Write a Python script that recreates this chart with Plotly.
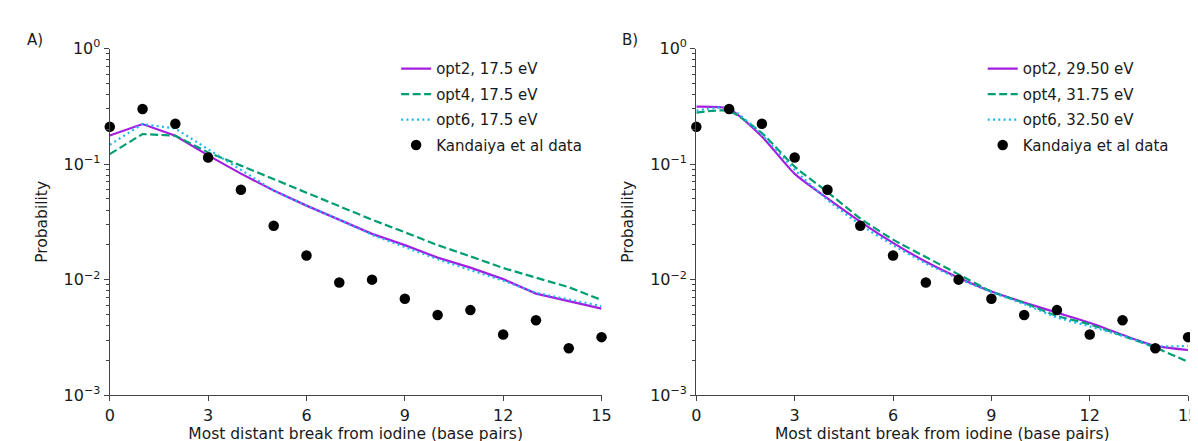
import plotly.graph_objects as go

x = list(range(16))

# Kandaiya et al experimental data (same in both panels)
kandaiya = [0.21, 0.30, 0.223, 0.114, 0.060, 0.0293, 0.0162, 0.00945,
            0.0100, 0.00684, 0.00495, 0.00545, 0.00335, 0.00445, 0.00255, 0.00318]

# Panel A (17.5 eV)
a_opt2 = [0.177, 0.222, 0.176, 0.119, 0.0827, 0.059, 0.0437, 0.033,
          0.0249, 0.0199, 0.0155, 0.0127, 0.0101, 0.00757, 0.00655, 0.00562]
a_opt4 = [0.122, 0.182, 0.176, 0.126, 0.097, 0.0738, 0.0562, 0.0431,
          0.033, 0.0257, 0.0199, 0.0159, 0.0126, 0.0104, 0.0086, 0.00667]
a_opt6 = [0.147, 0.222, 0.203, 0.135, 0.089, 0.059, 0.0437, 0.033,
          0.0244, 0.0192, 0.015, 0.0121, 0.0098, 0.0077, 0.0067, 0.0059]

# Panel B (fitted energies)
b_opt2 = [0.314, 0.30, 0.173, 0.0822, 0.0505, 0.0318, 0.0208, 0.0143,
          0.0104, 0.0079, 0.00634, 0.00518, 0.00423, 0.00333, 0.00267, 0.00246]
b_opt4 = [0.279, 0.288, 0.185, 0.095, 0.0573, 0.0339, 0.0222, 0.0157,
          0.0111, 0.0079, 0.00627, 0.00486, 0.0041, 0.00327, 0.00258, 0.00194]
b_opt6 = [0.29, 0.306, 0.179, 0.089, 0.049, 0.0299, 0.0199, 0.0138,
          0.0102, 0.0078, 0.00614, 0.00471, 0.00394, 0.00327, 0.00267, 0.00267]

a_names = ["opt2, 17.5 eV", "opt4, 17.5 eV", "opt6, 17.5 eV", "Kandaiya et al data"]
b_names = ["opt2, 29.50 eV", "opt4, 31.75 eV", "opt6, 32.50 eV", "Kandaiya et al data"]

x_ticks = [0, 3, 6, 9, 12, 15]
y_ticks = [0.001, 0.01, 0.1, 1]
y_ticktext = ["10<sup>\u22123</sup>", "10<sup>\u22122</sup>", "10<sup>\u22121</sup>", "10<sup>0</sup>"]
minor_vals = [m * 10.0 ** e for e in (-3, -2, -1) for m in range(2, 10)]

PURPLE = "#a41ee0"
GREEN = "#009e73"
BLUE = "#1ab8f0"
FONT = "DejaVu Sans"
TXT = "#1a1a1a"
W, H = 1198, 441

fig = go.Figure()

def add_panel(xa, ya, legend, names, s2, s4, s6, shape):
    styles = [(s2, PURPLE, "solid"), (s4, GREEN, "8px,3.5px"), (s6, BLUE, "2px,3.3px")]
    for i, (vals, col, dash) in enumerate(styles):
        fig.add_trace(go.Scatter(
            x=x, y=vals, mode="lines", name=names[i],
            line=dict(color=col, width=2.2, dash=dash, shape=shape, smoothing=0.6),
            xaxis=xa, yaxis=ya, legend=legend, legendgroup=legend + str(i)))
    fig.add_trace(go.Scatter(
        x=x, y=kandaiya, mode="markers", name=names[3],
        marker=dict(color="black", size=10.5), cliponaxis=False,
        xaxis=xa, yaxis=ya, legend=legend, legendgroup=legend + "3"))

add_panel("x", "y", "legend", a_names, a_opt2, a_opt4, a_opt6, "linear")
add_panel("x2", "y2", "legend2", b_names, b_opt2, b_opt4, b_opt6, "spline")

axis_common = dict(showline=True, linecolor="#444", linewidth=1.3, ticks="outside",
                   ticklen=5, tickcolor="#444", showgrid=False, zeroline=False,
                   tickfont=dict(size=16, color=TXT, family=FONT))
xcommon = dict(axis_common, range=[0, 15], tickvals=x_ticks,
               title=dict(text="Most distant break from iodine (base pairs)",
                          font=dict(size=15.5, color=TXT, family=FONT), standoff=0))
ycommon = dict(axis_common, type="log", range=[-3, 0], tickvals=y_ticks, ticktext=y_ticktext,
               minor=dict(tickvals=minor_vals, ticks="outside", ticklen=3, tickcolor="#444"),
               title=dict(text="Probability", font=dict(size=15.5, color=TXT, family=FONT), standoff=12))

legend_common = dict(xanchor="left", yanchor="top", font=dict(size=15, family=FONT, color=TXT),
                     tracegroupgap=3, bgcolor="rgba(0,0,0,0)")

ydom = [1 - 395 / H, 1 - 31 / H]

fig.update_layout(
    width=W, height=H,
    margin=dict(l=0, r=0, t=0, b=0),
    paper_bgcolor="white", plot_bgcolor="white",
    font=dict(family=FONT, color=TXT),
    xaxis=dict(xcommon, domain=[98 / W, 596 / W], anchor="y"),
    yaxis=dict(ycommon, domain=ydom, anchor="x"),
    xaxis2=dict(xcommon, domain=[692 / W, 1190 / W], anchor="y2"),
    yaxis2=dict(ycommon, domain=ydom, anchor="x2"),
    legend=dict(legend_common, x=388 / W, y=1 - 35 / H),
    legend2=dict(legend_common, x=982 / W, y=1 - 35 / H),
    showlegend=True,
    annotations=[
        dict(text="A)", x=12 / W, y=1 - 22 / H, xref="paper", yref="paper",
             showarrow=False, xanchor="left", yanchor="middle",
             font=dict(size=15, family=FONT, color=TXT)),
        dict(text="B)", x=615 / W, y=1 - 22 / H, xref="paper", yref="paper",
             showarrow=False, xanchor="left", yanchor="middle",
             font=dict(size=15, family=FONT, color=TXT)),
    ],
)

fig.write_html("out.html")
